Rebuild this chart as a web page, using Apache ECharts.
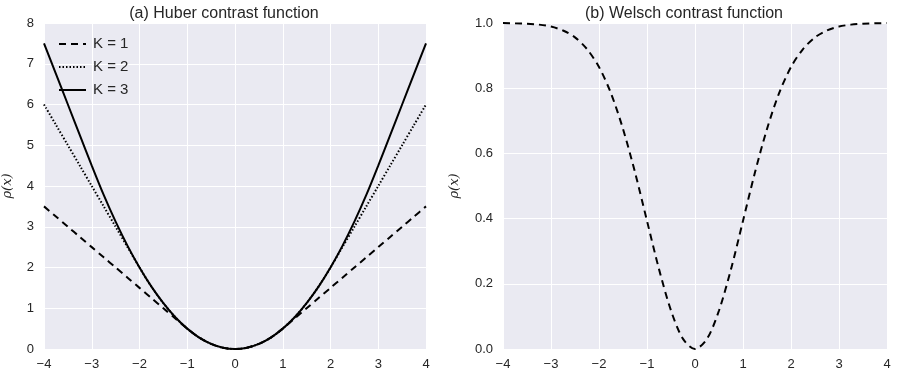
<!DOCTYPE html>
<html><head><meta charset="utf-8">
<script src="https://cdn.jsdelivr.net/npm/echarts@6/dist/echarts.min.js"></script>
<style>html,body{margin:0;padding:0;background:#fff}#c{width:901px;height:382px}</style>
</head><body><div id="c"></div>
<script>
const xs = [-4,-3.75,-3.5,-3.25,-3,-2.75,-2.5,-2.25,-2,-1.75,-1.5,-1.25,-1,-0.75,-0.5,-0.25,0,0.25,0.5,0.75,1,1.25,1.5,1.75,2,2.25,2.5,2.75,3,3.25,3.5,3.75,4];
const huberK1 = [3.5,3.25,3,2.75,2.5,2.25,2,1.75,1.5,1.25,1,0.75,0.5,0.28,0.125,0.03,0,0.03,0.125,0.28,0.5,0.75,1,1.25,1.5,1.75,2,2.25,2.5,2.75,3,3.25,3.5];
const huberK2 = [6,5.5,5,4.5,4,3.5,3,2.5,2,1.53,1.125,0.78,0.5,0.28,0.125,0.03,0,0.03,0.125,0.28,0.5,0.78,1.125,1.53,2,2.5,3,3.5,4,4.5,5,5.5,6];
const huberK3 = [7.5,6.75,6,5.25,4.5,3.78,3.125,2.53,2,1.53,1.125,0.78,0.5,0.28,0.125,0.03,0,0.03,0.125,0.28,0.5,0.78,1.125,1.53,2,2.53,3.125,3.78,4.5,5.25,6,6.75,7.5];
const welsch = [1.0,0.999,0.998,0.995,0.989,0.977,0.956,0.92,0.865,0.784,0.675,0.542,0.393,0.245,0.118,0.031,0,0.031,0.118,0.245,0.393,0.542,0.675,0.784,0.865,0.92,0.956,0.977,0.989,0.995,0.998,0.999,1.0];
const titles = ['(a) Huber contrast function','(b) Welsch contrast function'];
const legendNames = ['K = 1','K = 2','K = 3'];

const pts = ys => xs.map((x,i)=>[x,ys[i]]);
const txt = '#262626';
const font = 'Liberation Sans, Arial, sans-serif';
const minus = v => String(v).replace('-', '\u2212');

function xAxis(gi){return {type:'value',gridIndex:gi,min:-4,max:4,interval:1,
  axisLine:{show:false},axisTick:{show:false},
  axisLabel:{color:txt,fontSize:13,fontFamily:font,margin:9,formatter:minus},
  splitLine:{lineStyle:{color:'#fff',width:1}}};}
function yAxis(gi,max,interval,fmt,gap){return {type:'value',gridIndex:gi,min:0,max:max,interval:interval,
  axisLine:{show:false},axisTick:{show:false},
  axisLabel:{color:txt,fontSize:13,fontFamily:font,margin:10,formatter:fmt},
  splitLine:{lineStyle:{color:'#fff',width:1}},
  name:'\u03C1(x)',nameLocation:'middle',nameGap:gap,nameRotate:90,
  nameTextStyle:{color:txt,fontSize:13,fontFamily:'DejaVu Serif, serif',fontStyle:'italic'}};}

const lineBase = {type:'line',symbol:'none',smooth:0.3,animation:false,itemStyle:{color:'#000'}};
const chart = echarts.init(document.getElementById('c'),null,{renderer:'canvas'});
chart.setOption({
  animation:false,
  color:['#000'],
  title:[
    {text:titles[0],left:219,top:1,textAlign:'center',textStyle:{color:txt,fontSize:16,fontWeight:'normal',fontFamily:font}},
    {text:titles[1],left:679,top:1,textAlign:'center',textStyle:{color:txt,fontSize:16,fontWeight:'normal',fontFamily:font}}
  ],
  grid:[
    {left:42,right:475,top:23,bottom:33,show:true,backgroundColor:'#EAEAF2',borderWidth:0},
    {left:503,right:14,top:23,bottom:33,show:true,backgroundColor:'#EAEAF2',borderWidth:0}
  ],
  legend:{left:53,top:31,orient:'vertical',itemWidth:27,itemHeight:10,itemGap:7,
    itemStyle:{color:'rgba(0,0,0,0)',borderWidth:0,opacity:0},
    textStyle:{color:txt,fontSize:15,fontFamily:font,lineHeight:16,padding:[0,0,0,2]},
    data:legendNames},
  xAxis:[xAxis(0),xAxis(1)],
  yAxis:[yAxis(0,8,1,v=>String(v),30),yAxis(1,1,0.2,v=>v.toFixed(1),42)],
  series:[
    Object.assign({},lineBase,{name:legendNames[0],xAxisIndex:0,yAxisIndex:0,data:pts(huberK1),lineStyle:{color:'#000',width:2,type:[7,5]}}),
    Object.assign({},lineBase,{name:legendNames[1],xAxisIndex:0,yAxisIndex:0,data:pts(huberK2),lineStyle:{color:'#000',width:2,type:[1.5,2]}}),
    Object.assign({},lineBase,{name:legendNames[2],xAxisIndex:0,yAxisIndex:0,data:pts(huberK3),lineStyle:{color:'#000',width:2,type:'solid'}}),
    Object.assign({},lineBase,{name:'welsch',xAxisIndex:1,yAxisIndex:1,data:pts(welsch),lineStyle:{color:'#000',width:2,type:[7,5]}})
  ]
});
</script></body></html>
